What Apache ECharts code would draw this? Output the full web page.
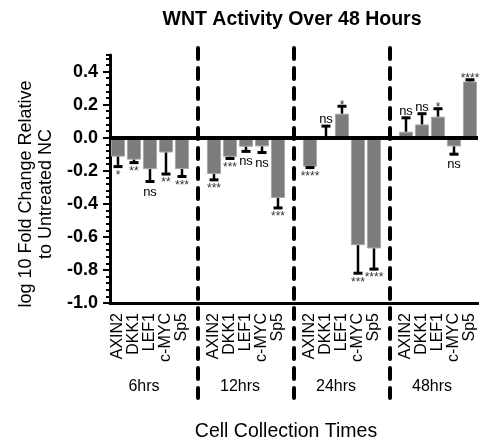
<!DOCTYPE html>
<html>
<head>
<meta charset="utf-8">
<script src="https://cdn.jsdelivr.net/npm/echarts@6/dist/echarts.min.js"></script>
<style>
  html, body { margin: 0; padding: 0; background: #fff; }
  #chart { width: 479px; height: 448px; }
</style>
</head>
<body>
<div id="chart"></div>
<script>
// chart values
const genes = ['AXIN2', 'DKK1', 'LEF1', 'c-MYC', 'Sp5'];
const timeGroups = ['6hrs', '12hrs', '24hrs', '48hrs'];

const mean6h = [-0.115, -0.133, -0.19, -0.09, -0.19];
const mean12h = [-0.22, -0.116, -0.055, -0.053, -0.365];
const mean24h = [-0.175, 0.005, 0.145, -0.65, -0.67];
const mean48h = [0.036, 0.08, 0.127, -0.053, 0.34];

const err6h = [0.06, 0.018, 0.075, 0.13, 0.045];
const err12h = [0.035, 0.01, 0.028, 0.037, 0.06];
const err24h = [0.006, 0.065, 0.045, 0.17, 0.125];
const err48h = [0.084, 0.065, 0.048, 0.047, 0.01];

const sig6h = ['*', '**', 'ns', '**', '***'];
const sig12h = ['***', '***', 'ns', 'ns', '***'];
const sig24h = ['****', 'ns', '*', '***', '****'];
const sig48h = ['ns', 'ns', '*', 'ns', '****'];

const yMin = -1.0;
const yMax = 0.5;
const yStep = 0.2;
const yMinorStep = 0.04;

const FONT = "'Liberation Sans', Arial, sans-serif";

const means = [mean6h, mean12h, mean24h, mean48h];
const errs = [err6h, err12h, err24h, err48h];
const sigs = [sig6h, sig12h, sig24h, sig48h];

// one empty slot between groups holds the dashed separator
let categories = [];
let barData = [];
let errData = [];
let sigLabels = [];
let separatorIdx = [];
let groupMidIdx = [];
for (let g = 0; g < timeGroups.length; g++) {
  groupMidIdx.push(categories.length + 2);
  for (let j = 0; j < genes.length; j++) {
    errData.push([categories.length, means[g][j], errs[g][j]]);
    sigLabels.push(sigs[g][j]);
    categories.push(genes[j]);
    barData.push(means[g][j]);
  }
  if (g < timeGroups.length - 1) {
    separatorIdx.push(categories.length);
    categories.push('');
    barData.push('-');
  }
}

const chart = echarts.init(document.getElementById('chart'));

const option = {
  animation: false,
  backgroundColor: '#fff',
  textStyle: { fontFamily: FONT },
  title: {
    text: 'WNT Activity Over 48 Hours',
    left: 287,
    textAlign: 'center',
    top: 5,
    textStyle: { fontFamily: FONT, fontSize: 19.5, fontWeight: 'bold', color: '#000' }
  },
  grid: { left: 110, right: 1, top: 55, bottom: 145, containLabel: false, outerBoundsMode: 'none' },
  xAxis: {
    type: 'category',
    data: categories,
    name: 'Cell Collection Times',
    nameLocation: 'middle',
    nameGap: 119,
    nameTextStyle: { fontFamily: FONT, fontSize: 19.5, color: '#000', padding: [0, 16, 0, 0] },
    axisLine: { onZero: false, lineStyle: { color: '#000', width: 3 } },
    axisTick: { alignWithLabel: true, interval: 0, length: 6, lineStyle: { color: '#000', width: 2 } },
    axisLabel: { interval: 0, rotate: 90, margin: 10, fontFamily: FONT, fontSize: 16, color: '#000' },
    splitLine: { show: false }
  },
  yAxis: [{
    type: 'value',
    min: yMin,
    max: yMax,
    interval: yStep,
    name: 'log 10 Fold Change Relative\nto Untreated NC',
    nameLocation: 'middle',
    nameGap: 54,
    nameTextStyle: { fontFamily: FONT, fontSize: 18, lineHeight: 20, color: '#000', padding: [0, 30, 0, 0] },
    axisLine: { show: true, lineStyle: { color: '#000', width: 3 } },
    axisTick: { show: true, length: 7, lineStyle: { color: '#000', width: 2 } },
    axisLabel: {
      margin: 12,
      showMaxLabel: false,
      fontFamily: FONT, fontSize: 18, fontWeight: 'bold', color: '#000',
      formatter: function (v) { return v.toFixed(1); }
    },
    splitLine: { show: false }
  }, {
    type: 'value',
    min: yMin,
    max: yMax,
    interval: yMinorStep,
    position: 'left',
    axisLine: { show: false },
    axisTick: { show: true, length: 4, lineStyle: { color: '#000', width: 2 } },
    axisLabel: { show: false },
    splitLine: { show: false }
  }],
  series: [{
    type: 'bar',
    data: barData,
    barCategoryGap: '12%',
    itemStyle: { color: '#7c7c7c', borderColor: '#a8a8a8', borderWidth: 1 },
    markLine: {
      silent: true,
      symbol: ['none', 'none'],
      label: { show: false },
      lineStyle: { color: '#000', width: 4, type: 'solid' },
      data: [{ yAxis: 0 }]
    }
  }, {
    type: 'custom',
    data: errData,
    z: 5,
    renderItem: function (params, api) {
      const x = api.value(0);
      const v = api.value(1);
      const e = api.value(2);
      const dir = v < 0 ? -1 : 1;
      const p0 = api.coord([x, v]);
      const p1 = api.coord([x, v + dir * e]);
      const sig = sigLabels[params.dataIndex];
      const isStar = sig !== 'ns';
      let ty;
      if (dir < 0) ty = p1[1] + (isStar ? 9 : 10.5);
      else ty = p1[1] - (isStar ? 1 : 6.5);
      return {
        type: 'group',
        children: [{
          type: 'line',
          shape: { x1: p0[0], y1: p0[1], x2: p1[0], y2: p1[1] },
          style: { stroke: '#000', lineWidth: 2.5 }
        }, {
          type: 'line',
          shape: { x1: p1[0] - 4.5, y1: p1[1], x2: p1[0] + 4.5, y2: p1[1] },
          style: { stroke: '#000', lineWidth: 3 }
        }, {
          type: 'text',
          x: p1[0],
          y: ty,
          style: {
            text: sig,
            fill: isStar ? '#333' : '#000',
            font: (isStar ? '12px ' : '13px ') + FONT,
            align: 'center',
            verticalAlign: 'middle'
          }
        }]
      };
    }
  }]
};

chart.setOption(option);

// dashed separators and group labels, placed through the axis scales
const yTop = chart.convertToPixel({ yAxisIndex: 0 }, yMax) - 7;
const yBottom = chart.convertToPixel({ yAxisIndex: 0 }, yMin) + 95;
let graphics = [];
separatorIdx.forEach(function (i) {
  const x = chart.convertToPixel({ xAxisIndex: 0 }, i);
  graphics.push({
    type: 'line',
    z: 10,
    shape: { x1: x, y1: yTop, x2: x, y2: yBottom },
    style: { stroke: '#000', lineWidth: 4, lineDash: [11, 9], lineCap: 'round' }
  });
});
groupMidIdx.forEach(function (i, g) {
  const x = chart.convertToPixel({ xAxisIndex: 0 }, i);
  graphics.push({
    type: 'text',
    x: x - 6,
    y: chart.convertToPixel({ yAxisIndex: 0 }, yMin) + 84,
    style: {
      text: timeGroups[g],
      font: '16px ' + FONT,
      fill: '#000',
      align: 'center',
      verticalAlign: 'middle'
    }
  });
});
chart.setOption({ graphic: graphics });
</script>
</body>
</html>
